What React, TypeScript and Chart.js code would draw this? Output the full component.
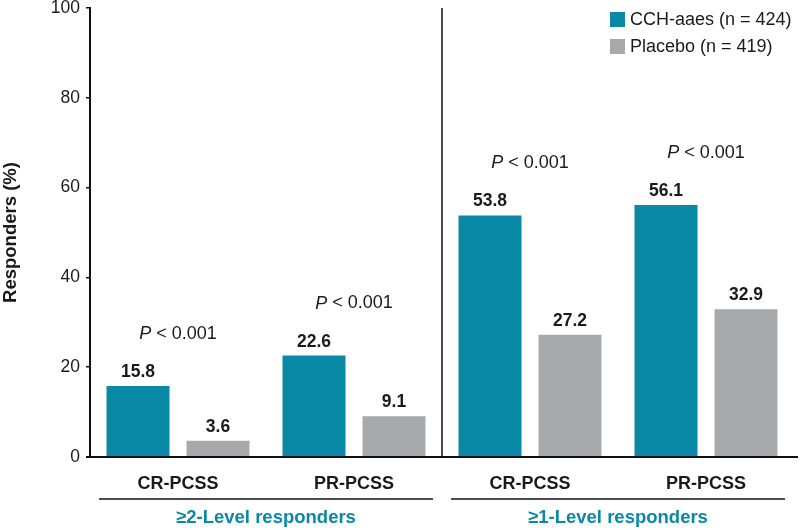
import React, { useEffect, useRef } from "react";
import { Chart, registerables } from "chart.js";

Chart.register(...registerables);

const categories = ["CR-PCSS", "PR-PCSS", "CR-PCSS", "PR-PCSS"];
const cchValues = [15.8, 22.6, 53.8, 56.1];
const placeboValues = [3.6, 9.1, 27.2, 32.9];
const pValueTexts = ["< 0.001", "< 0.001", "< 0.001", "< 0.001"];
const groupLabels = ["≥2-Level responders", "≥1-Level responders"];
const seriesLabels = ["CCH-aaes (n = 424)", "Placebo (n = 419)"];
const yTickMax = 100;
const yTickStep = 20;

const TEAL = "#0989a6";
const GRAY = "#a7a9ac";
const FONT = "'Liberation Sans', Arial, sans-serif";

const annotationPlugin = {
  id: "annotations",
  afterDatasetsDraw(chart: any) {
    const { ctx, chartArea, scales } = chart;
    const x = scales.x;
    const y = scales.y;
    ctx.save();
    // separator line between groups
    const sepX = (x.getPixelForValue(1) + x.getPixelForValue(2)) / 2;
    ctx.strokeStyle = "#111";
    ctx.lineWidth = 1.5;
    ctx.beginPath();
    ctx.moveTo(sepX, chartArea.top);
    ctx.lineTo(sepX, chartArea.bottom);
    ctx.stroke();

    // value labels
    ctx.fillStyle = "#1a1a1a";
    ctx.font = `bold 17.5px ${FONT}`;
    ctx.textAlign = "center";
    ctx.textBaseline = "alphabetic";
    chart.data.datasets.forEach((ds: any, di: number) => {
      const meta = chart.getDatasetMeta(di);
      meta.data.forEach((bar: any, i: number) => {
        ctx.fillText(ds.data[i].toFixed(1), bar.x, bar.y - 9);
      });
    });

    // P-value labels
    const metaC = chart.getDatasetMeta(0);
    metaC.data.forEach((bar: any, i: number) => {
      const cx = x.getPixelForValue(i);
      const cy = y.getPixelForValue(cchValues[i]) - 52;
      ctx.font = `italic 18px ${FONT}`;
      const pW = ctx.measureText("P").width;
      ctx.font = `18px ${FONT}`;
      const rest = " " + pValueTexts[i];
      const rW = ctx.measureText(rest).width;
      const start = cx - (pW + rW) / 2;
      ctx.textAlign = "left";
      ctx.textBaseline = "middle";
      ctx.font = `italic 18px ${FONT}`;
      ctx.fillText("P", start, cy);
      ctx.font = `18px ${FONT}`;
      ctx.fillText(rest, start + pW, cy);
    });

    // legend
    ctx.textAlign = "left";
    ctx.textBaseline = "middle";
    ctx.font = `18px ${FONT}`;
    const colors = [TEAL, GRAY];
    seriesLabels.forEach((lab, i) => {
      const cy = 19 + i * 27;
      ctx.fillStyle = colors[i];
      ctx.fillRect(610, cy - 7, 15, 15);
      ctx.fillStyle = "#1a1a1a";
      ctx.fillText(lab, 630, cy + 1);
    });
    ctx.restore();
  },
  afterDraw(chart: any) {
    const { ctx, scales, chartArea } = chart;
    const x = scales.x;
    ctx.save();
    // extend the baseline slightly beyond the plot area, as in the source
    ctx.strokeStyle = "#111";
    ctx.lineWidth = 2;
    ctx.beginPath();
    ctx.moveTo(chartArea.left - 4, chartArea.bottom);
    ctx.lineTo(chartArea.right + 4, chartArea.bottom);
    ctx.stroke();

    const mid = (x.getPixelForValue(1) + x.getPixelForValue(2)) / 2;
    const bounds = [
      [x.left, mid],
      [mid, x.right],
    ];
    ctx.lineWidth = 1.5;
    ctx.fillStyle = TEAL;
    ctx.font = `bold 18.5px ${FONT}`;
    ctx.textAlign = "center";
    ctx.textBaseline = "middle";
    bounds.forEach(([a, b], i) => {
      ctx.beginPath();
      ctx.moveTo(a + 9, 499);
      ctx.lineTo(b - 9, 499);
      ctx.stroke();
      ctx.fillText(groupLabels[i], (a + b) / 2, 518);
    });
    ctx.restore();
  },
};

export default function App() {
  const ref = useRef<HTMLCanvasElement | null>(null);
  useEffect(() => {
    document.body.style.margin = "0";
    if (!ref.current) return;
    const chart = new Chart(ref.current, {
      type: "bar",
      data: {
        labels: categories,
        datasets: [
          {
            label: seriesLabels[0],
            data: cchValues,
            backgroundColor: TEAL,
            categoryPercentage: 0.909,
            barPercentage: 0.7875,
          },
          {
            label: seriesLabels[1],
            data: placeboValues,
            backgroundColor: GRAY,
            categoryPercentage: 0.909,
            barPercentage: 0.7875,
          },
        ],
      },
      options: {
        animation: false,
        responsive: true,
        maintainAspectRatio: false,
        layout: { padding: { top: 8, right: 6, left: 0, bottom: 0 } },
        plugins: {
          legend: { display: false },
          tooltip: { enabled: false },
        },
        scales: {
          x: {
            grid: { display: false },
            border: { display: true, color: "#111", width: 2 },
            ticks: {
              color: "#1a1a1a",
              font: { family: FONT, size: 18, weight: "bold" },
              padding: 8,
            },
            afterFit: (s: any) => {
              s.height = 73;
              s.paddingLeft = 0;
              s.paddingRight = 0;
            },
          },
          y: {
            min: 0,
            max: yTickMax,
            ticks: {
              stepSize: yTickStep,
              color: "#1a1a1a",
              font: { family: FONT, size: 17.5 },
              padding: 6,
            },
            grid: {
              drawOnChartArea: false,
              drawTicks: true,
              tickLength: 4,
              color: "#111",
              lineWidth: 1.5,
            },
            border: { display: true, color: "#111", width: 2 },
            title: {
              display: true,
              text: "Responders (%)",
              color: "#1a1a1a",
              font: { family: FONT, size: 18.5, weight: "bold" },
              padding: { top: 0, bottom: 0 },
            },
            afterFit: (s: any) => {
              s.width = 90;
              s.paddingTop = 0;
              s.paddingBottom = 0;
            },
          },
        },
      },
      plugins: [annotationPlugin],
    });
    return () => chart.destroy();
  }, []);
  return (
    <div style={{ width: 800, height: 530, position: "relative" }}>
      <canvas ref={ref} />
    </div>
  );
}
